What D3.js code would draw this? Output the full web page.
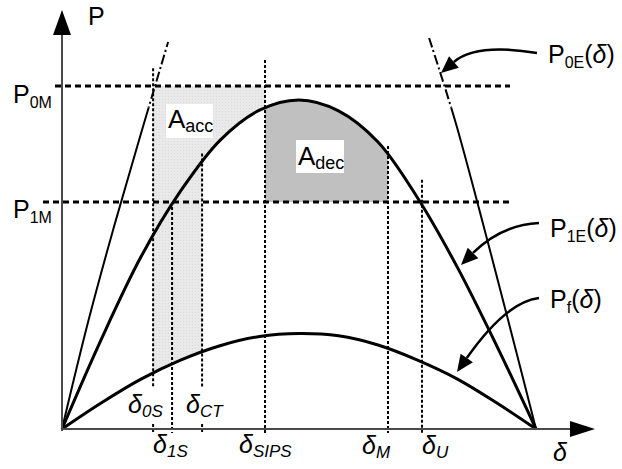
<!DOCTYPE html>
<html><head><meta charset="utf-8">
<script src="https://cdn.jsdelivr.net/npm/d3@7"></script>
<style>html,body{margin:0;padding:0;background:#fff;}svg{display:block;font-family:"Liberation Sans",Arial,sans-serif;}</style>
</head><body>
<script>
// ---------- data (δ in degrees, P in p.u. of P1E max) ----------
const delta1E = [0, 15, 30, 45, 60, 75, 90, 105, 120, 135, 150, 165, 180];
const p1E     = [0, 0.275, 0.525, 0.725, 0.880, 0.972, 1.003, 0.970, 0.875, 0.705, 0.495, 0.255, 0];
const deltaF  = [0, 15, 30, 45, 60, 75, 90, 105, 120, 135, 150, 165, 180];
const pF      = [0, 0.080, 0.152, 0.210, 0.254, 0.282, 0.291, 0.284, 0.256, 0.210, 0.153, 0.080, 0];
const delta0EL = [0, 9.9, 19.4, 29.6, 40.3];
const p0EL     = [0, 0.326, 0.607, 0.890, 1.180];
const delta0ER = [139.4, 149.2, 159.5, 169.4, 180];
const p0ER     = [1.192, 0.942, 0.637, 0.332, 0];
const levelNames  = ["0M", "1M"];
const levelValues = [1.046, 0.692];
const angleNames  = ["0S", "1S", "CT", "SIPS", "M", "U"];
const angleValues = [34.6, 41.8, 53.2, 77.1, 123.8, 136.7];
const angleTops   = [1.10, 0.677, 0.84, 1.125, 0.863, 0.76];
const curveNames  = ["0E", "1E", "f"];
const areaNames   = ["acc", "dec"];

// ---------- setup ----------
const W = 622, H = 469;
const svg = d3.select("body").append("svg").attr("width", W).attr("height", H);
const x = d3.scaleLinear().domain([0, 180]).range([62, 536]);
const y = d3.scaleLinear().domain([0, 1]).range([429, 101]);
const zip = (a, b) => a.map((d, i) => [d, b[i]]);
const c1E = zip(delta1E, p1E), cF = zip(deltaF, pF), c0L = zip(delta0EL, p0EL), c0R = zip(delta0ER, p0ER);
const curveType = d3.curveCatmullRom.alpha(0.5);
const line = d3.line().x(d => x(d[0])).y(d => y(d[1])).curve(curveType);
const defs = svg.append("defs");

const idx = n => angleNames.indexOf(n);
const d0S = angleValues[idx("0S")], dCT = angleValues[idx("CT")], dSIPS = angleValues[idx("SIPS")], dM = angleValues[idx("M")];
const P0M = levelValues[0], P1M = levelValues[1];

// clip regions: above Pf, above P1E, below P1E
const areaAbove = d3.area().x(d => x(d[0])).y0(0).y1(d => y(d[1])).curve(curveType);
const areaBelow = d3.area().x(d => x(d[0])).y0(y(0)).y1(d => y(d[1])).curve(curveType);
defs.append("clipPath").attr("id", "aboveF").append("path").attr("d", areaAbove(cF));
defs.append("clipPath").attr("id", "above1E").append("path").attr("d", areaAbove(c1E));
defs.append("clipPath").attr("id", "below1E").append("path").attr("d", areaBelow(c1E));
defs.append("clipPath").attr("id", "topPart").append("rect").attr("x", 0).attr("y", 0).attr("width", W).attr("height", y(0.98));
defs.append("clipPath").attr("id", "botPart").append("rect").attr("x", 0).attr("y", y(0.98)).attr("width", W).attr("height", H);

// stipple pattern for A_acc
const pat = defs.append("pattern").attr("id", "stip").attr("width", 3).attr("height", 3).attr("patternUnits", "userSpaceOnUse");
pat.append("rect").attr("width", 3).attr("height", 3).attr("fill", "#e9e9e9");
pat.append("rect").attr("width", 1).attr("height", 1).attr("fill", "#dadada");

// ---------- areas ----------
svg.append("rect").attr("clip-path", "url(#aboveF)")
  .attr("x", x(d0S)).attr("y", y(P0M)).attr("width", x(dCT) - x(d0S)).attr("height", y(0) - y(P0M))
  .attr("fill", "url(#stip)");
svg.append("rect").attr("clip-path", "url(#above1E)")
  .attr("x", x(dCT)).attr("y", y(P0M)).attr("width", x(dSIPS) - x(dCT)).attr("height", y(0) - y(P0M))
  .attr("fill", "url(#stip)");
svg.append("rect").attr("clip-path", "url(#below1E)")
  .attr("x", x(dSIPS)).attr("y", y(1.1)).attr("width", x(dM) - x(dSIPS)).attr("height", y(P1M) - y(1.1))
  .attr("fill", "#c0c0c0");

// label boxes
svg.append("rect").attr("x", 166).attr("y", 104).attr("width", 47).attr("height", 34).attr("fill", "#fff");
svg.append("rect").attr("x", 296).attr("y", 140).attr("width", 48).attr("height", 33).attr("fill", "#fff");

// ---------- horizontal dashed levels ----------
const levelStart = [55, 43];
levelValues.forEach((v, i) => {
  svg.append("line").attr("x1", levelStart[i]).attr("x2", 510).attr("y1", y(v)).attr("y2", y(v))
    .attr("stroke", "#000").attr("stroke-width", 3).attr("stroke-dasharray", "6,4");
});

// ---------- vertical dotted lines ----------
const gapLabel = ["0S", "CT"];
angleValues.forEach((v, i) => {
  const g = svg.append("g").attr("stroke", "#000").attr("stroke-width", 2).attr("stroke-dasharray", "3,2");
  if (gapLabel.includes(angleNames[i])) {
    g.append("line").attr("x1", x(v)).attr("x2", x(v)).attr("y1", y(angleTops[i])).attr("y2", y(0) - 42);
    g.append("line").attr("x1", x(v)).attr("x2", x(v)).attr("y1", y(0) - 5).attr("y2", y(0) + 4);
  } else {
    g.append("line").attr("x1", x(v)).attr("x2", x(v)).attr("y1", y(angleTops[i])).attr("y2", y(0) + 4);
  }
});

// ---------- curves ----------
[c0L, c0R].forEach(c => {
  svg.append("path").attr("d", line(c)).attr("fill", "none").attr("stroke", "#000").attr("stroke-width", 2)
    .attr("clip-path", "url(#botPart)");
  svg.append("path").attr("d", line(c)).attr("fill", "none").attr("stroke", "#000").attr("stroke-width", 2)
    .attr("stroke-dasharray", "10,3,2,3").attr("clip-path", "url(#topPart)");
});
svg.append("path").attr("d", line(c1E)).attr("fill", "none").attr("stroke", "#000").attr("stroke-width", 3);
svg.append("path").attr("d", line(cF)).attr("fill", "none").attr("stroke", "#000").attr("stroke-width", 3);

// ---------- axes ----------
const axisCol = "#4a4a4a";
svg.append("line").attr("x1", x(0)).attr("x2", x(0)).attr("y1", y(0) + 2).attr("y2", 34).attr("stroke", axisCol).attr("stroke-width", 2);
svg.append("path").attr("d", `M${x(0)},10 L${x(0) + 9},35 L${x(0) - 9},35 Z`).attr("fill", "#000");
svg.append("line").attr("x1", x(0) - 1).attr("x2", 571).attr("y1", y(0)).attr("y2", y(0)).attr("stroke", axisCol).attr("stroke-width", 2);
svg.append("path").attr("d", `M595,${y(0)} L570,${y(0) - 8} L570,${y(0) + 8} Z`).attr("fill", "#000");

// ---------- arrows ----------
function arrow(S, C, T) {
  const dx = T[0] - C[0], dy = T[1] - C[1], L = Math.hypot(dx, dy), ux = dx / L, uy = dy / L;
  const len = 17, hw = 7.5, B = [T[0] - ux * len, T[1] - uy * len];
  svg.append("path").attr("d", `M${S[0]},${S[1]} Q${C[0]},${C[1]} ${B[0]},${B[1]}`)
    .attr("fill", "none").attr("stroke", "#000").attr("stroke-width", 2.5);
  svg.append("path").attr("d", `M${T[0]},${T[1]} L${B[0] - uy * hw},${B[1] + ux * hw} L${B[0] + uy * hw},${B[1] - ux * hw} Z`).attr("fill", "#000");
}
arrow([537, 53], [476, 43], [441, 73]);
arrow([539, 223], [501, 225], [461, 265]);
arrow([539, 298], [506, 302], [457, 372]);

// ---------- text ----------
function label(px, py, main, sub, opts = {}) {
  const t = svg.append("text").attr("x", px).attr("y", py).attr("fill", "#000");
  t.append("tspan").attr("font-size", opts.mainSize || 25).attr("font-style", opts.mainItalic ? "italic" : "normal").text(main);
  t.append("tspan").attr("font-size", opts.subSize || 16).attr("font-style", opts.subItalic ? "italic" : "normal")
    .attr("dy", opts.subDy || 5).text(sub);
  if (opts.tail) {
    t.append("tspan").attr("font-size", 25).attr("dy", -(opts.subDy || 5)).text("(");
    t.append("tspan").attr("font-size", 25).attr("font-style", "italic").text("δ");
    t.append("tspan").attr("font-size", 25).text(")");
  }
  return t;
}
svg.append("text").attr("x", 88).attr("y", 25).attr("font-size", 25).text("P");
svg.append("text").attr("x", 553).attr("y", 461).attr("font-size", 25).attr("font-style", "italic").text("δ");
label(13, 103, "P", levelNames[0]);
label(13, 218, "P", levelNames[1]);
label(548, 63, "P", curveNames[0], { tail: true });
label(550, 237, "P", curveNames[1], { tail: true });
label(550, 308, "P", curveNames[2], { tail: true });
label(168, 128, "A", areaNames[0], { mainSize: 26, subSize: 18, subDy: 4 });
label(298, 165, "A", areaNames[1], { mainSize: 26, subSize: 18, subDy: 4 });

const angleLabelDx = [-25, -19, -16, -26, -26, 0];
const angleLabelY  = [413, 453, 413, 453, 454, 454];
angleNames.forEach((n, i) => {
  label(x(angleValues[i]) + angleLabelDx[i], angleLabelY[i], "δ", n,
    { mainItalic: true, subItalic: true, mainSize: 25, subSize: 17, subDy: 4 });
});
</script>
</body></html>
